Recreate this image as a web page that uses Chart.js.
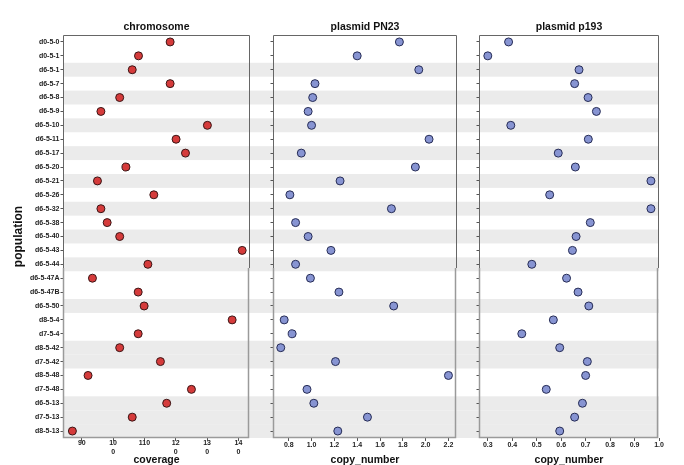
<!DOCTYPE html>
<html>
<head>
<meta charset="utf-8">
<script src="https://cdn.jsdelivr.net/npm/chart.js@4.4.1/dist/chart.umd.min.js"></script>
<style>
    body { margin: 0; background: #fff; }
    #wrap { position: relative; width: 684px; height: 465px; }
    #wrap canvas { position: absolute; top: 0; }
</style>
</head>
<body>
<div id="wrap">
    <canvas id="chart-chromosome" width="262" height="465" style="left:0"></canvas>
    <canvas id="chart-pn23" width="206" height="465" style="left:262px"></canvas>
    <canvas id="chart-p193" width="216" height="465" style="left:468px"></canvas>
</div>
<script>
// Populations (top to bottom)
const populations = ['d0-5-0', 'd0-5-1', 'd6-5-1', 'd6-5-7', 'd6-5-8', 'd6-5-9', 'd6-5-10', 'd6-5-11',
    'd6-5-17', 'd6-5-20', 'd6-5-21', 'd6-5-26', 'd6-5-32', 'd6-5-38', 'd6-5-40', 'd6-5-43', 'd6-5-44',
    'd6-5-47A', 'd6-5-47B', 'd6-5-50', 'd8-5-4', 'd7-5-4', 'd8-5-42', 'd7-5-42', 'd8-5-48', 'd7-5-48',
    'd6-5-13', 'd7-5-13', 'd8-5-13'];

// Rows that sit in a shaded group
const shadedRows = [0, 0, 1, 0, 1, 0, 1, 0, 1, 0, 1, 0, 1, 0, 1, 0, 1, 0, 0, 1, 0, 0, 1, 1, 0, 0, 1, 1, 1];

const chromosomeCoverage = [118.2, 108.1, 106.1, 118.2, 102.1, 96.1, 130.1, 120.1, 123.1, 104.1, 95.0,
    113.0, 96.1, 98.1, 102.1, 141.2, 111.1, 93.4, 108.0, 109.9, 138.0, 108.0, 102.1, 115.1, 92.0, 125.0,
    117.1, 106.1, 87.0];

const pn23CopyNumber = [1.77, 1.40, 1.94, 1.03, 1.01, 0.97, 1.00, 2.03, 0.91, 1.91, 1.25, 0.81, 1.70,
    0.86, 0.97, 1.17, 0.86, 0.99, 1.24, 1.72, 0.76, 0.83, 0.73, 1.21, 2.20, 0.96, 1.02, 1.49, 1.23];

const p193CopyNumber = [0.385, 0.300, 0.673, 0.655, 0.710, 0.744, 0.394, 0.711, 0.588, 0.658, 0.967,
    0.553, 0.967, 0.719, 0.661, 0.646, 0.480, 0.622, 0.669, 0.713, 0.568, 0.439, 0.594, 0.707, 0.700,
    0.539, 0.687, 0.655, 0.594];

// Tick values and their labels
const coverageTicks = [90, 100, 110, 120, 130, 140];
const coverageTickLabels = [['90'], ['10', '0'], ['110'], ['12', '0'], ['13', '0'], ['14', '0']];
const pn23Ticks = [0.8, 1.0, 1.2, 1.4, 1.6, 1.8, 2.0, 2.2];
const pn23TickLabels = ['0.8', '1.0', '1.2', '1.4', '1.6', '1.8', '2.0', '2.2'];
const p193Ticks = [0.3, 0.4, 0.5, 0.6, 0.7, 0.8, 0.9, 1.0];
const p193TickLabels = ['0.3', '0.4', '0.5', '0.6', '0.7', '0.8', '0.9', '1.0'];

const FONT = "'Liberation Sans', Arial, sans-serif";
Chart.defaults.font.family = FONT;

// Draws the grey row bands and the panel frame
const panelPlugin = {
    id: 'panelFrame',
    beforeDraw(chart, args, opts) {
        const { ctx, chartArea } = chart;
        const y = chart.scales.y;
        const rowH = (y.bottom - y.top) / populations.length;
        const x0 = opts.bandsFromEdgeLeft ? 0 : chartArea.left;
        const x1 = opts.bandsToEdgeRight ? chart.width : chartArea.right;
        ctx.save();
        ctx.fillStyle = '#ebebeb';
        shadedRows.forEach((s, i) => {
            if (!s) return;
            const py = y.getPixelForValue(i);
            ctx.fillRect(x0, py - rowH / 2, x1 - x0, rowH);
        });
        ctx.restore();
    },
    beforeDatasetsDraw(chart) {
        const { ctx, chartArea: a } = chart;
        const split = 268;
        ctx.save();
        ctx.lineWidth = 1;
        ctx.strokeStyle = '#666';
        ctx.beginPath();
        ctx.moveTo(a.left + 0.5, split);
        ctx.lineTo(a.left + 0.5, a.top + 0.5);
        ctx.lineTo(a.right - 0.5, a.top + 0.5);
        ctx.lineTo(a.right - 0.5, split);
        ctx.stroke();
        // lower part of the frame is lighter
        ctx.strokeStyle = '#9a9a9a';
        ctx.lineWidth = 1.5;
        ctx.beginPath();
        ctx.moveTo(a.left + 0.5, split);
        ctx.lineTo(a.left + 0.5, a.bottom - 0.5);
        ctx.lineTo(a.right - 1.5, a.bottom - 0.5);
        ctx.lineTo(a.right - 1.5, split);
        ctx.stroke();
        ctx.restore();
    }
};

function makePanel(id, cfg) {
    const canvas = document.getElementById(id);
    return new Chart(canvas, {
        type: 'line',
        data: {
            labels: populations,
            datasets: [{
                data: cfg.values,
                showLine: false,
                pointRadius: 4,
                pointHoverRadius: 4,
                pointBorderWidth: 1,
                pointBackgroundColor: cfg.fill,
                pointBorderColor: cfg.border
            }]
        },
        options: {
            responsive: false,
            animation: false,
            indexAxis: 'y',
            layout: { padding: { left: 0, right: cfg.padRight, top: 0, bottom: 0 } },
            plugins: {
                legend: { display: false },
                tooltip: { enabled: false },
                title: {
                    display: true,
                    text: cfg.title,
                    fullSize: false,
                    color: '#111',
                    font: { size: 10.5, weight: 'bold', lineHeight: 1.2 },
                    padding: { top: 20.7, bottom: 1.7 }
                },
                panelFrame: {
                    bandsFromEdgeLeft: cfg.bandsFromEdgeLeft,
                    bandsToEdgeRight: cfg.bandsToEdgeRight
                }
            },
            scales: {
                x: {
                    type: 'linear',
                    min: cfg.min,
                    max: cfg.max,
                    afterFit: s => { s.height = 27; },
                    afterBuildTicks: s => { s.ticks = cfg.ticks.map(v => ({ value: v })); },
                    grid: { drawOnChartArea: false, tickLength: 3, color: '#555' },
                    border: { display: false },
                    ticks: {
                        padding: cfg.xTickPad,
                        maxRotation: 0,
                        autoSkip: false,
                        color: '#222',
                        font: { size: 7, weight: 'bold', lineHeight: 1.25 },
                        callback: (v, i) => cfg.tickLabels[i]
                    },
                    title: {
                        display: true,
                        text: cfg.xTitle,
                        color: '#111',
                        padding: 0,
                        font: { size: 10.5, weight: 'bold', lineHeight: 1 }
                    }
                },
                y: {
                    type: 'category',
                    offset: true,
                    afterFit: s => { s.width = cfg.yWidth; },
                    grid: { drawOnChartArea: false, tickLength: 2.5, color: '#555' },
                    border: { display: false },
                    ticks: {
                        display: cfg.showYLabels,
                        autoSkip: false,
                        padding: 1,
                        color: '#222',
                        font: { size: 7, weight: 'bold' }
                    },
                    title: {
                        display: cfg.showYLabels,
                        text: 'population',
                        color: '#111',
                        padding: { top: 11, bottom: 0 },
                        font: { size: 12, weight: 'bold', lineHeight: 1.2 }
                    }
                }
            }
        },
        plugins: [panelPlugin]
    });
}

makePanel('chart-chromosome', {
    title: 'chromosome', xTitle: 'coverage',
    values: chromosomeCoverage, fill: '#d53b3b', border: '#3a1616',
    min: 84.0, max: 143.7, ticks: coverageTicks, tickLabels: coverageTickLabels, xTickPad: -2,
    yWidth: 63, padRight: 12, showYLabels: true,
    bandsFromEdgeLeft: false, bandsToEdgeRight: true
});

makePanel('chart-pn23', {
    title: 'plasmid PN23', xTitle: 'copy_number',
    values: pn23CopyNumber, fill: '#8794d2', border: '#262c55',
    min: 0.662, max: 2.275, ticks: pn23Ticks, tickLabels: pn23TickLabels, xTickPad: 0,
    yWidth: 11, padRight: 11, showYLabels: false,
    bandsFromEdgeLeft: true, bandsToEdgeRight: true
});

makePanel('chart-p193', {
    title: 'plasmid p193', xTitle: 'copy_number',
    values: p193CopyNumber, fill: '#8794d2', border: '#262c55',
    min: 0.264, max: 1.0, ticks: p193Ticks, tickLabels: p193TickLabels, xTickPad: 0,
    yWidth: 11, padRight: 25, showYLabels: false,
    bandsFromEdgeLeft: true, bandsToEdgeRight: false
});
</script>
</body>
</html>
